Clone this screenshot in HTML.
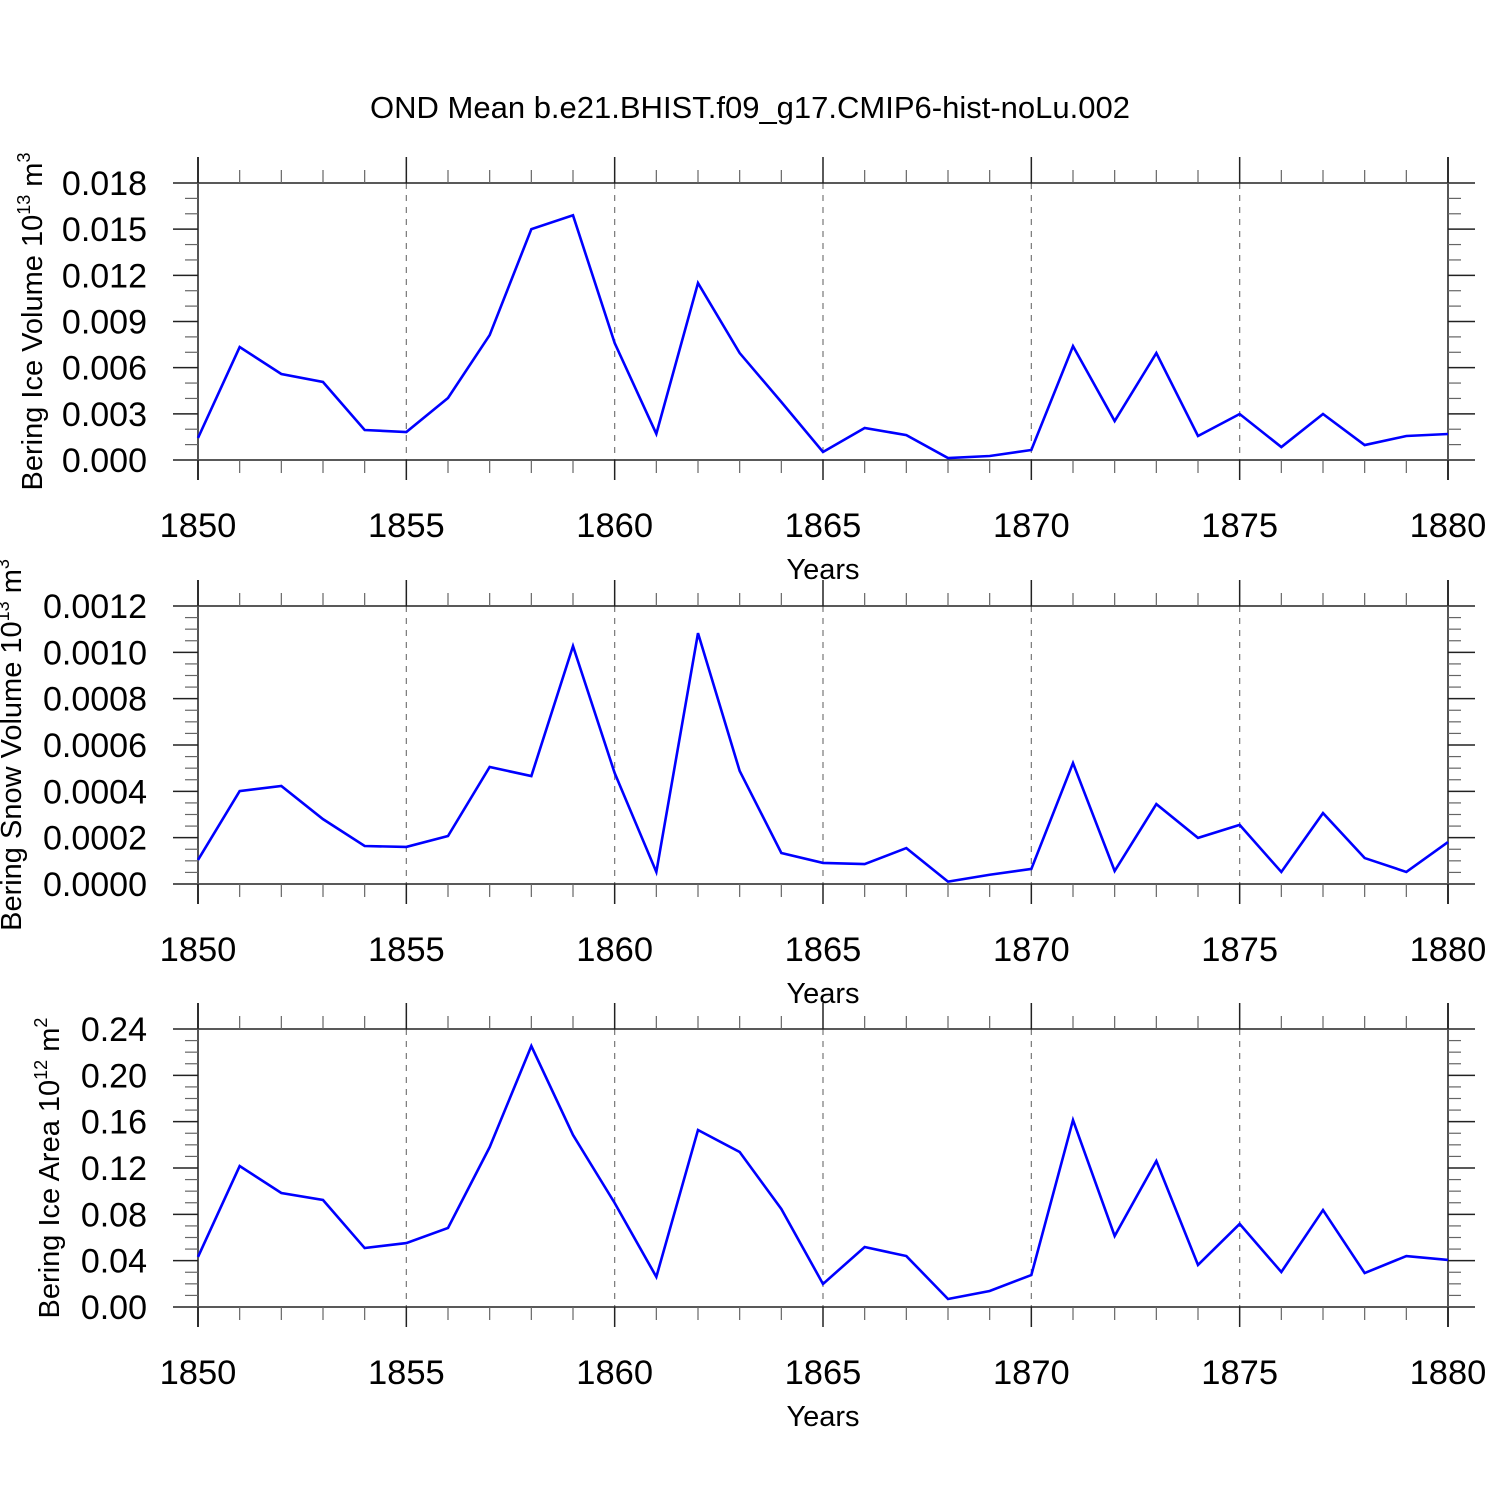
<!DOCTYPE html>
<html><head><meta charset="utf-8"><style>
html,body{margin:0;padding:0;background:#fff;}
svg{display:block;font-family:"Liberation Sans",sans-serif;}
</style></head><body>
<svg id="c" width="1500" height="1500" viewBox="0 0 1500 1500">
<text x="750" y="118" font-size="31" text-anchor="middle">OND Mean b.e21.BHIST.f09_g17.CMIP6-hist-noLu.002</text>
</svg>
<script>
const years = [1850,1851,1852,1853,1854,1855,1856,1857,1858,1859,1860,1861,1862,1863,1864,1865,1866,1867,1868,1869,1870,1871,1872,1873,1874,1875,1876,1877,1878,1879,1880];
const iceVolume = [0.00143,0.00734,0.00559,0.00507,0.00195,0.00182,0.00403,0.00812,0.0150,0.0159,0.0076,0.0017,0.0115,0.00695,0.00377,0.00052,0.00208,0.00162,0.00013,0.00026,0.00065,0.0074,0.00253,0.00695,0.00156,0.00299,0.00084,0.00299,0.00097,0.00156,0.00169];
const snowVolume = [0.000104,0.000401,0.000423,0.00028,0.000164,0.00016,0.000207,0.000505,0.000466,0.001027,0.000479,0.000052,0.001083,0.000488,0.000134,0.000091,0.000086,0.000155,0.00001,0.00004,0.000065,0.000522,0.000056,0.000345,0.000199,0.000255,0.000052,0.000306,0.000112,0.000052,0.000181];
const iceArea = [0.0432,0.1217,0.0984,0.0924,0.0509,0.0552,0.0682,0.138,0.2253,0.1485,0.0898,0.026,0.1528,0.1338,0.0846,0.0199,0.0518,0.044,0.0069,0.0138,0.0276,0.1614,0.0613,0.126,0.0363,0.0717,0.0302,0.0837,0.0293,0.044,0.0406];
const xTicks = [1850,1855,1860,1865,1870,1875,1880];
const iceVolTicks = ["0.000","0.003","0.006","0.009","0.012","0.015","0.018"];
const snowTicks = ["0.0000","0.0002","0.0004","0.0006","0.0008","0.0010","0.0012"];
const areaTicks = ["0.00","0.04","0.08","0.12","0.16","0.20","0.24"];

const NS="http://www.w3.org/2000/svg";
const svg=document.getElementById('c');
function mk(tag,attrs,parent){const e=document.createElementNS(NS,tag);for(const k in attrs)e.setAttribute(k,attrs[k]);(parent||svg).appendChild(e);return e;}
const X0=198,X1=1448;
const xs=v=>X0+(v-1850)/30*(X1-X0);

function panel(name,top,bottom,vals,ticks,ymax,minorPer,titleMain,sup,unit,titleX){
  const g=mk('g',{});
  
  
  const ys=v=>bottom-(v/ymax)*(bottom-top);
  xTicks.slice(1,-1).forEach(t=>{
    const l=mk('line',{x1:xs(t),x2:xs(t),y1:top,y2:bottom,stroke:'#777','stroke-width':1.2,'stroke-dasharray':'6,6'},g);
    
    
  });
  [top,bottom].forEach(y=>{mk('line',{x1:173,x2:1475,y1:y,y2:y,stroke:'#222','stroke-width':1.5},g);});
  [X0,X1].forEach(x=>{mk('line',{x1:x,x2:x,y1:top-26,y2:bottom+20,stroke:'#555','stroke-width':2},g);});
  for(let yr=1850;yr<=1880;yr++){
    const x=xs(yr);
    if(yr%5===0){
      mk('line',{x1:x,x2:x,y1:top-26,y2:top,stroke:'#222','stroke-width':1.5},g);
      mk('line',{x1:x,x2:x,y1:bottom,y2:bottom+20,stroke:'#222','stroke-width':1.5},g);
    } else {
      mk('line',{x1:x,x2:x,y1:top-13,y2:top,stroke:'#666','stroke-width':1.2},g);
      mk('line',{x1:x,x2:x,y1:bottom,y2:bottom+13,stroke:'#666','stroke-width':1.2},g);
    }
  }
  xTicks.forEach(t=>{
    const tx=mk('text',{x:xs(t),y:bottom+77,'font-size':34.5,'text-anchor':'middle'},g);
    tx.textContent=t;
    
    
  });
  const xt=mk('text',{x:823,y:bottom+119,'font-size':29,'text-anchor':'middle'},g);
  xt.textContent='Years';
  
  
  const n=ticks.length-1;
  const step=ymax/n;
  for(let i=0;i<=n;i++){
    const y=ys(i*step);
    if(i>0&&i<n){
      mk('line',{x1:173,x2:X0,y1:y,y2:y,stroke:'#222','stroke-width':1.5},g);
      mk('line',{x1:X1,x2:1475,y1:y,y2:y,stroke:'#222','stroke-width':1.5},g);
    }
    const tl=mk('text',{x:147,y:y+12,'font-size':34,'text-anchor':'end'},g);
    tl.textContent=ticks[i];
    
    
    if(i<n){
      for(let m=1;m<=minorPer;m++){
        const ym=ys(i*step+m*step/(minorPer+1));
        mk('line',{x1:185,x2:X0,y1:ym,y2:ym,stroke:'#666','stroke-width':1.2},g);
        mk('line',{x1:X1,x2:1461,y1:ym,y2:ym,stroke:'#666','stroke-width':1.2},g);
      }
    }
  }
  const cy=(top+bottom)/2;
  const yt=mk('text',{x:titleX,y:cy,'font-size':29,'text-anchor':'middle',transform:`rotate(-90 ${titleX} ${cy})`},g);
  
  
  const s1=mk('tspan',{},yt);s1.textContent=titleMain+' 10';
  const s2=mk('tspan',{'font-size':18,dy:-12},yt);s2.textContent=sup;
  const s3=mk('tspan',{dy:12},yt);s3.textContent=' m';
  const s4=mk('tspan',{'font-size':18,dy:-12},yt);s4.textContent=unit;
  const pts=vals.map((v,i)=>xs(years[i])+','+ys(v)).join(' ');
  const pl=mk('polyline',{points:pts,fill:'none',stroke:'#0000ff','stroke-width':2.6,'stroke-linejoin':'miter'},g);
  
  
}
panel('ice-volume',183,460,iceVolume,iceVolTicks,0.018,2,'Bering Ice Volume','13','3',42);
panel('snow-volume',606,884,snowVolume,snowTicks,0.0012,3,'Bering Snow Volume','13','3',21);
panel('ice-area',1029,1307,iceArea,areaTicks,0.24,3,'Bering Ice Area','12','2',59);
</script>
</body></html>
